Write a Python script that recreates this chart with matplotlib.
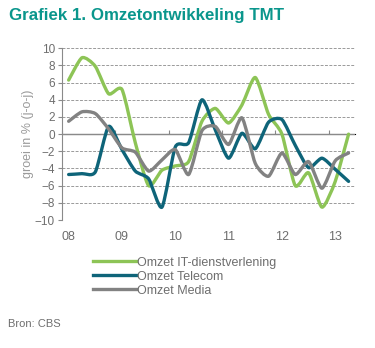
import matplotlib
matplotlib.use("Agg")
import matplotlib.pyplot as plt
from matplotlib.path import Path
from matplotlib.patches import PathPatch
import numpy as np

plt.rcParams["font.family"] = ["Liberation Sans", "DejaVu Sans"]

# quarterly data, 2008 Q1 .. 2013 Q2
quarters = [f"{y}Q{q}" for y in range(2008, 2014) for q in range(1, 5)][:22]
year_labels = ["08", "09", "10", "11", "12", "13"]

it_diensten = [6.3, 8.9, 7.9, 4.7, 5.2, -1.0, -6.0, -4.2, -3.7, -3.2, 1.5,
               3.0, 1.3, 3.4, 6.6, 2.3, 0.0, -6.0, -4.5, -8.5, -5.5, 0.0]
telecom = [-4.7, -4.6, -4.4, 0.9, -1.8, -4.3, -5.2, -8.5, -1.5, -1.0, 4.0,
           0.5, -2.8, 0.1, -1.7, 1.4, 1.7, -1.3, -3.9, -2.8, -4.1, -5.5]
media = [1.5, 2.6, 2.4, 0.6, -1.6, -2.1, -4.3, -3.0, -1.8, -4.7, 0.4,
         0.9, -1.2, 1.9, -3.4, -4.9, -2.2, -4.7, -3.2, -6.3, -3.1, -2.2]

GREEN = "#8dc456"
TEAL = "#0e6479"
GREY = "#828282"
TXT = "#6e6e6e"


def smooth_path(x, y, k=9.0):
    # lightly smoothed line: cubic bezier segments through the data points
    pts = np.column_stack([x, y])
    n = len(pts)
    verts = [pts[0]]
    codes = [Path.MOVETO]
    for i in range(n - 1):
        p0 = pts[i - 1] if i > 0 else pts[i]
        p1, p2 = pts[i], pts[i + 1]
        p3 = pts[i + 2] if i + 2 < n else pts[i + 1]
        verts += [p1 + (p2 - p0) / k, p2 - (p3 - p1) / k, p2]
        codes += [Path.CURVE4] * 3
    return Path(verts, codes)


fig = plt.figure(figsize=(3.75, 3.48), dpi=100)
ax = fig.add_axes([0.1653, 0.3678, 0.782, 0.4934])

x = np.arange(len(quarters))
for vals, col, lab in [(it_diensten, GREEN, "Omzet IT-dienstverlening"),
                       (telecom, TEAL, "Omzet Telecom"),
                       (media, GREY, "Omzet Media")]:
    ax.add_patch(PathPatch(smooth_path(x, np.array(vals)), facecolor="none",
                           edgecolor=col, lw=2.4, capstyle="round",
                           joinstyle="round", zorder=3))
    ax.plot([], [], color=col, lw=2.4, label=lab)

ax.set_xlim(-0.5, len(quarters) - 0.5)
ax.set_ylim(-10, 10)
ax.set_yticks(range(-10, 11, 2))
ax.set_yticklabels([str(v).replace("-", "\u2212") for v in range(-10, 11, 2)])
for v in range(-10, 11, 2):
    if v != 0:
        ax.axhline(v, color="#9a9a9a", lw=0.7, ls=(0, (3, 1.5)), zorder=1)
ax.axhline(0, color="#8a8a8a", lw=0.9, zorder=2)

for s in ["top", "right", "bottom"]:
    ax.spines[s].set_visible(False)
ax.spines["left"].set_color("#8a8a8a")
ax.tick_params(axis="y", colors="#8a8a8a", labelcolor=TXT, labelsize=8.5,
               length=3, pad=2)

# year labels on the first quarter of each year
ax.set_xticks(x[::4])
ax.set_xticklabels(year_labels)
ax.tick_params(axis="x", length=0, labelcolor=TXT, labelsize=9, pad=8)

# year boundary ticks on the zero line
sec = ax.secondary_xaxis(0.5)
sec.set_xticks(np.arange(-0.5, len(quarters), 4))
sec.set_xticklabels([])
sec.spines["bottom"].set_visible(False)
sec.tick_params(axis="x", length=3, colors="#8a8a8a")

ax.set_ylabel("groei in % (j-o-j)", color="#9a9a9a", fontsize=9, labelpad=1)

fig.text(0.024, 0.955, "Grafiek 1. Omzetontwikkeling TMT", fontsize=12.2,
         fontweight="bold", color="#0a968c", va="center")

fig.legend(loc="upper left", bbox_to_anchor=(0.248, 0.262), frameon=False,
           fontsize=9, handlelength=3.4, handletextpad=0.1, labelspacing=0.15,
           labelcolor=TXT, borderaxespad=0, borderpad=0)

fig.text(0.022, 0.068, "Bron: CBS", fontsize=8, color=TXT, va="center")

fig.savefig("out.png", dpi=100)
